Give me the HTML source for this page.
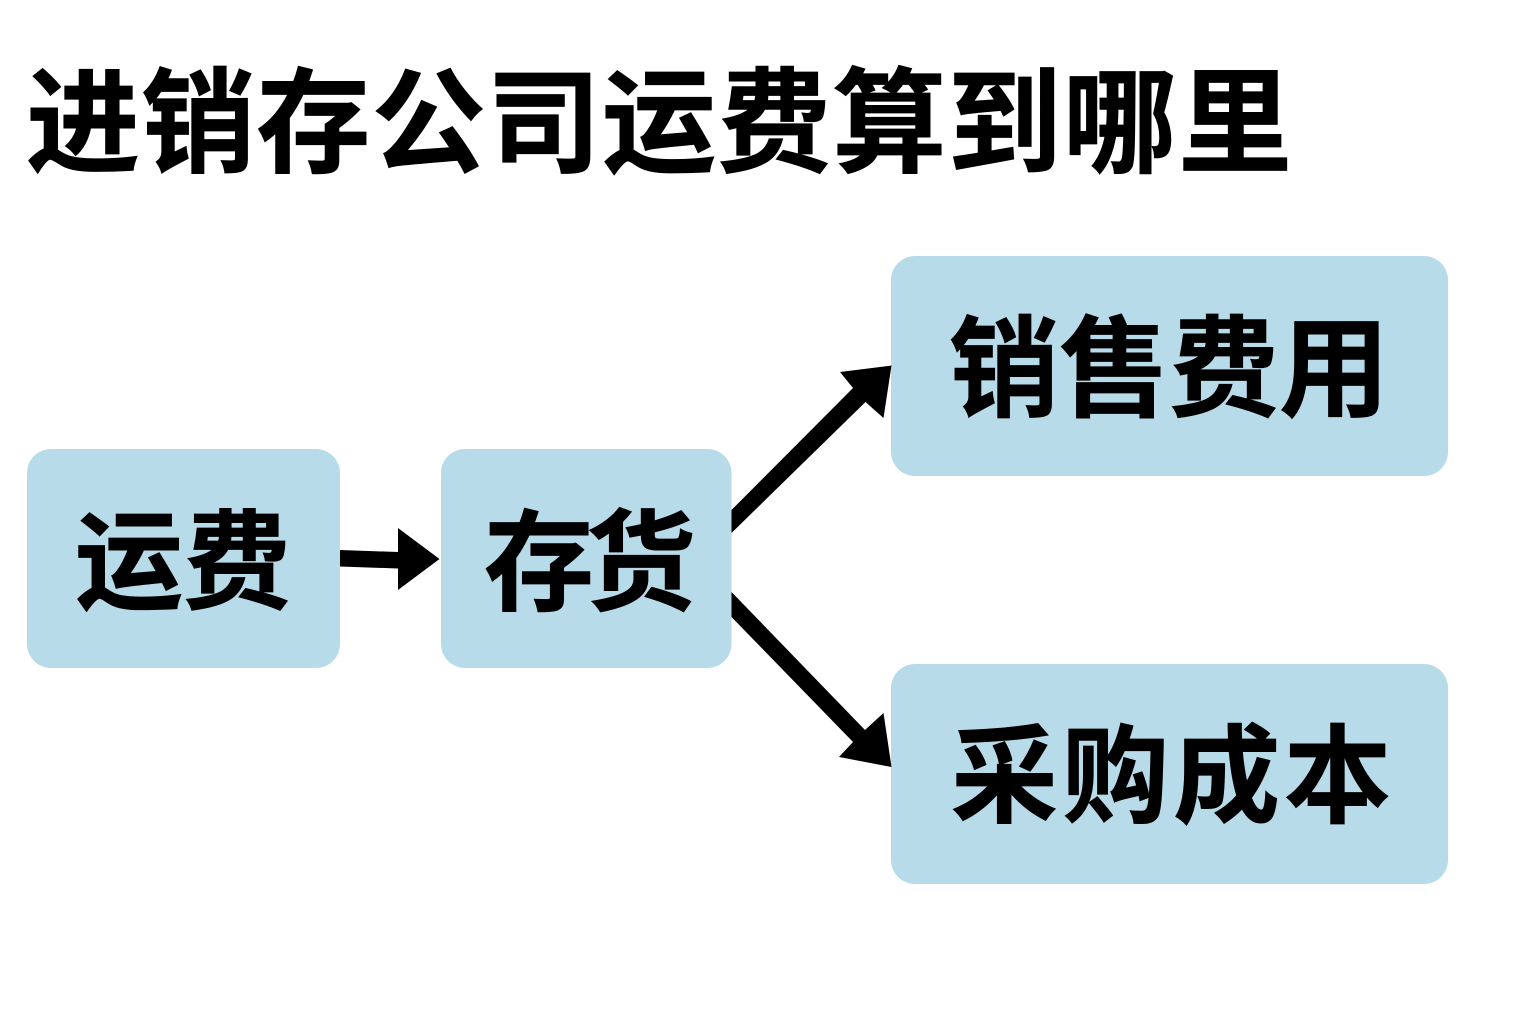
<!DOCTYPE html>
<html lang="zh">
<head>
<meta charset="utf-8">
<style>
html,body{margin:0;padding:0;background:#fff;width:1536px;height:1024px;overflow:hidden}
svg{display:block}
text{font-family:"Liberation Sans","Noto Sans CJK SC",sans-serif;font-weight:700;fill:#000;stroke:#000;stroke-width:.8}
</style>
</head>
<body>
<svg width="1536" height="1024" viewBox="0 0 1536 1024" xmlns="http://www.w3.org/2000/svg">
<rect width="1536" height="1024" fill="#fff"/>
<text x="26" y="163.5" font-size="114" textLength="1266" lengthAdjust="spacing">进销存公司运费算到哪里</text>

<rect x="27" y="449" width="313" height="219" rx="24" fill="#b8dbe9"/>
<rect x="441" y="449" width="290.5" height="219" rx="24" fill="#b8dbe9"/>
<rect x="891" y="256" width="557" height="220" rx="24" fill="#b8dbe9"/>
<rect x="891" y="664" width="557" height="220" rx="24" fill="#b8dbe9"/>

<text x="75" y="600.5" font-size="108" textLength="216" lengthAdjust="spacing">运费</text>
<text x="484" y="602" font-size="110" textLength="212" lengthAdjust="spacing">存货</text>
<text x="949" y="408" font-size="110" textLength="440" lengthAdjust="spacing">销售费用</text>
<text x="951" y="814" font-size="107" textLength="440" lengthAdjust="spacing">采购成本</text>

<polygon points="340,550 398,552 398,528 439.5,559 398,590 398,568.5 340,566.5" fill="#000"/>
<polygon points="731.5,510 853,388 840,372 891.5,365.5 883.5,418 865.5,402 731.5,533" fill="#000"/>
<polygon points="731.5,592 865,730 883.5,713 891.5,767 839,757 853,742 731.5,617" fill="#000"/>
</svg>
</body>
</html>
